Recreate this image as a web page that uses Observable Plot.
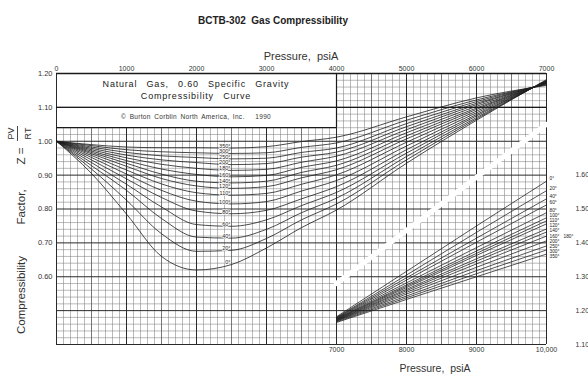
<!DOCTYPE html>
<html><head><meta charset="utf-8">
<script src="https://cdn.jsdelivr.net/npm/d3@7"></script>
<script src="https://cdn.jsdelivr.net/npm/@observablehq/plot@0.6"></script>
<style>
body{margin:0;background:#fff;}
</style></head><body><div id="chart"></div>
<script>
// ---- data ----
const chartTitle = "BCTB-302  Gas Compressibility";
const pressureLabel = "Pressure,  psiA";
const boxLine1 = "Natural Gas, 0.60 Specific Gravity";
const boxLine2 = "Compressibility Curve";
const copyrightLine = "© Burton Corblin North America, Inc.   1990";

const temps = [0,20,40,60,80,100,110,120,140,160,180,200,250,300,350];   // °F
const pressures = [0,500,1000,1500,2000,2500,3000,3500,4000,5000,6000,7000]; // psiA (upper chart)
const zUpper = [
  [1.000,0.905,0.785,0.660,0.620,0.636,0.685,0.745,0.797,0.935,1.062,1.182],
  [1.000,0.918,0.826,0.727,0.675,0.678,0.713,0.768,0.815,0.945,1.066,1.180],
  [1.000,0.928,0.855,0.772,0.717,0.714,0.740,0.789,0.832,0.955,1.070,1.179],
  [1.000,0.937,0.873,0.806,0.754,0.749,0.768,0.810,0.849,0.965,1.075,1.178],
  [1.000,0.945,0.889,0.834,0.794,0.786,0.796,0.830,0.866,0.975,1.079,1.177],
  [1.000,0.952,0.903,0.855,0.823,0.815,0.822,0.853,0.884,0.986,1.084,1.176],
  [1.000,0.958,0.915,0.874,0.848,0.841,0.846,0.873,0.901,0.997,1.089,1.175],
  [1.000,0.963,0.926,0.890,0.868,0.861,0.866,0.892,0.916,1.007,1.094,1.174],
  [1.000,0.967,0.935,0.903,0.882,0.877,0.882,0.908,0.929,1.016,1.098,1.173],
  [1.000,0.971,0.943,0.918,0.902,0.895,0.899,0.923,0.942,1.025,1.103,1.172],
  [1.000,0.975,0.951,0.932,0.920,0.914,0.917,0.938,0.956,1.034,1.108,1.171],
  [1.000,0.979,0.959,0.945,0.937,0.931,0.934,0.953,0.968,1.043,1.112,1.170],
  [1.000,0.983,0.967,0.957,0.952,0.948,0.950,0.967,0.980,1.052,1.117,1.169],
  [1.000,0.987,0.975,0.969,0.966,0.964,0.966,0.982,0.995,1.062,1.122,1.167],
  [1.000,0.990,0.983,0.981,0.981,0.980,0.984,0.999,1.012,1.072,1.128,1.165]
];
const lowerPressures = [7000,8000,9000,10000]; // psiA (lower-right chart)
const zLower = [
  [1.182,1.316,1.450,1.582],
  [1.180,1.305,1.431,1.554],
  [1.179,1.297,1.414,1.530],
  [1.178,1.290,1.402,1.512],
  [1.177,1.282,1.386,1.489],
  [1.176,1.276,1.376,1.474],
  [1.175,1.272,1.369,1.465],
  [1.174,1.268,1.363,1.456],
  [1.173,1.263,1.353,1.441],
  [1.172,1.259,1.346,1.432],
  [1.171,1.254,1.338,1.420],
  [1.170,1.249,1.328,1.406],
  [1.169,1.243,1.318,1.391],
  [1.167,1.238,1.309,1.379],
  [1.165,1.233,1.300,1.367]
];
const topTickLabels = ["0","1000","2000","3000","4000","5000","6000","7000"];
const bottomTickLabels = ["7000","8000","9000","10,000"];
const leftTickLabels = ["0.60","0.70","0.80","0.90","1.00","1.10","1.20"];
const rightTickLabels = ["1.10","1.20","1.30","1.40","1.50","1.60"];
const separator = [{p:4000, z:0.58},{p:7000, z:1.05}];
const offsetLabelTemp = 180; // the label printed off to the side at the right

// lower chart shares the grid: its pressure axis is shifted by 3000 psi, its Z axis by 0.70
const pShift = 3000, zShift = 0.70;
const boxRight = 4000, boxBottom = 1.04;

// ---- tables ----
const upperRows = temps.flatMap((t,i) => pressures.map((p,j) => ({t, p, z: zUpper[i][j]})));
const lowerRows = temps.flatMap((t,i) => lowerPressures.map((p,j) => ({t, p, z: zLower[i][j]})));

// end labels of the lower curves: spread so they do not collide
const pxPerZ = 271 / 0.8;
const labelGap = 5.2 / pxPerZ;
const endLabels = lowerRows.filter(d => d.p === 10000 && d.t !== offsetLabelTemp)
  .map(d => ({...d, ly: d.z - zShift})).sort((a, b) => b.ly - a.ly);
for (let i = 1; i < endLabels.length; i++) endLabels[i].ly = Math.min(endLabels[i].ly, endLabels[i-1].ly - labelGap);
{
  const orig = endLabels.map(d => d.z - zShift);
  const shift = ((orig[0] + orig[orig.length-1]) - (endLabels[0].ly + endLabels[endLabels.length-1].ly)) / 2;
  endLabels.forEach(d => d.ly += shift);
}
const offsetLabel = lowerRows.filter(d => d.p === 10000 && d.t === offsetLabelTemp).map(d => ({...d, ly: d.z - zShift}));

const gridP = d3.range(0, 7001, 100);
const gridZ = d3.range(40, 121, 2).map(v => v / 100);
const pMajor = p => p % 1000 === 0, pMid = p => !pMajor(p) && p % 500 === 0;
const zMajor = z => Math.round(z * 100) % 10 === 0;
const vTop = p => (p > 0 && p < boxRight) ? boxBottom : 1.20;
const hLeft = z => (z > boxBottom + 0.001 && !zMajor(z)) ? boxRight : 0;

const bottomTicks = bottomTickLabels.map(s => Number(s.replace(",", "")) - pShift);
const rightTicks = rightTickLabels.map(s => +(Number(s) - zShift).toFixed(2));

const ink = "#1e1e1e";
const chart = Plot.plot({
  width: 588, height: 374,
  marginLeft: 56, marginRight: 42, marginTop: 73, marginBottom: 30,
  x: {domain: [0, 7000], axis: null},
  y: {domain: [0.40, 1.20], axis: null},
  style: {fontFamily: "'Liberation Sans', Arial, Helvetica, sans-serif", background: "#fff", color: "#333"},
  marks: [
    Plot.ruleX(gridP.filter(p => !pMajor(p) && !pMid(p)), {x: d => d, y1: 0.40, y2: vTop, stroke: "#808080", strokeWidth: 0.55}),
    Plot.ruleY(gridZ.filter(z => !zMajor(z)), {y: d => d, x1: hLeft, x2: 7000, stroke: "#808080", strokeWidth: 0.55}),
    Plot.ruleX(gridP.filter(pMid), {x: d => d, y1: 0.40, y2: vTop, stroke: "#555", strokeWidth: 0.8}),
    Plot.ruleY(gridZ.filter(zMajor), {y: d => d, x1: hLeft, x2: 7000, stroke: "#2a2a2a", strokeWidth: 1.0}),
    Plot.ruleX(gridP.filter(pMajor), {x: d => d, y1: 0.40, y2: vTop, stroke: "#2a2a2a", strokeWidth: 1.0}),
    Plot.ruleY([boxBottom], {x1: 0, x2: boxRight, stroke: "#1a1a1a", strokeWidth: 1.3}),
    Plot.ruleY([1.10, 1.20], {x1: 0, x2: 7000, stroke: "#1a1a1a", strokeWidth: 1.3}),
    Plot.ruleX([boxRight], {y1: boxBottom, y2: 1.20, stroke: "#1a1a1a", strokeWidth: 1.2}),
    Plot.line(separator, {x: "p", y: "z", stroke: "#fff", strokeWidth: 5}),
    Plot.line(upperRows, {x: "p", y: "z", z: "t", curve: "monotone-x", stroke: ink, strokeWidth: 0.8}),
    Plot.line(lowerRows, {x: d => d.p - pShift, y: d => d.z - zShift, z: "t", curve: "monotone-x", stroke: ink, strokeWidth: 0.75}),
    Plot.text(upperRows.filter(d => d.p === 2500), {x: "p", y: "z", text: d => `${d.t}°`, textAnchor: "end", dx: -1, dy: -2, fontSize: 5.5, fill: "#222", stroke: "#fff", strokeWidth: 1.5}),
    Plot.text(endLabels, {x: d => d.p - pShift, y: "ly", text: d => `${d.t}°`, textAnchor: "start", dx: 3, fontSize: 4.8, fill: "#222"}),
    Plot.text(offsetLabel, {x: d => d.p - pShift, y: "ly", text: d => `${d.t}°`, textAnchor: "start", dx: 17, fontSize: 4.8, fill: "#222"}),
    Plot.axisX({anchor: "top", ticks: topTickLabels.map(Number), tickFormat: d => String(d), tickSize: 0, tickPadding: 3, fontSize: 7, label: null}),
    Plot.axisX({anchor: "bottom", ticks: bottomTicks, tickFormat: d => bottomTickLabels[bottomTicks.indexOf(d)], tickSize: 0, tickPadding: 3, fontSize: 7, label: null}),
    Plot.axisY({anchor: "left", ticks: leftTickLabels.map(Number), tickFormat: d => d.toFixed(2), tickSize: 0, tickPadding: 4, fontSize: 7.5, label: null}),
    Plot.axisY({anchor: "right", ticks: rightTicks, tickFormat: d => (d + zShift).toFixed(2), tickSize: 0, tickPadding: 29, fontSize: 7, label: null})
  ]
});

// ---- text annotations, placed through the plot's scales ----
const sx = chart.scale("x"), sy = chart.scale("y");
const svg = d3.select(chart);
const ff = "'Liberation Sans', Arial, Helvetica, sans-serif";
function txt(x, y, s, size, opts = {}) {
  const t = svg.append("text").attr("x", x).attr("y", y).text(s)
    .attr("font-family", ff).attr("font-size", size).attr("fill", opts.fill || "#222")
    .attr("text-anchor", opts.anchor || "middle");
  if (opts.weight) t.attr("font-weight", opts.weight);
  if (opts.ls) t.style("letter-spacing", opts.ls + "px");
  if (opts.ws) t.style("word-spacing", opts.ws + "px");
  return t;
}
txt(273, 24, chartTitle, 10, {weight: "bold", fill: "#222"});
txt((sx.apply(0) + sx.apply(7000)) / 2, 60, pressureLabel, 11, {fill: "#333"});
txt((sx.apply(4000) + sx.apply(7000)) / 2 - 6, 372, pressureLabel, 10.5, {fill: "#333"});
const bx = sx.apply(boxRight / 2);
txt(bx, sy.apply(1.169) + 3.2, boxLine1, 9, {ls: 0.8, ws: 6, fill: "#1a1a1a"});
txt(bx, sy.apply(1.132) + 3.2, boxLine2, 9, {ls: 0.8, ws: 6, fill: "#1a1a1a"});
txt(bx, sy.apply(1.071) + 2.3, copyrightLine, 6.5, {ls: 0.3, ws: 1.5, fill: "#333"});

// rotated y-axis title with the PV/RT fraction
const g = svg.append("g").attr("transform", "translate(24.5,295) rotate(-90)")
  .attr("font-family", ff).attr("fill", "#333");
[["Compressibility", 0], ["Factor,", 88], ["Z", 134], ["=", 144]].forEach(([s, x]) => {
  g.append("text").attr("x", x).attr("y", 0).attr("font-size", 11.5).text(s);
});
g.append("text").attr("x", 161.5).attr("y", -10.5).attr("font-size", 9).attr("text-anchor", "middle").text("PV");
g.append("line").attr("x1", 154).attr("x2", 169).attr("y1", -7).attr("y2", -7).attr("stroke", "#333").attr("stroke-width", 0.9);
g.append("text").attr("x", 161.5).attr("y", 6.5).attr("font-size", 9).attr("text-anchor", "middle").text("RT");

document.getElementById("chart").appendChild(chart);
</script></body></html>
